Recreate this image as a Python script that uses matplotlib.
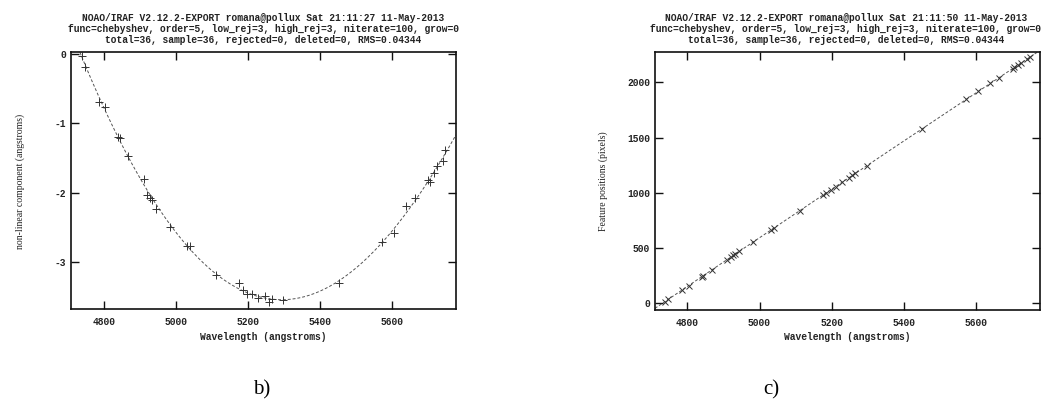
import numpy as np
import matplotlib
matplotlib.use("Agg")
import matplotlib.pyplot as plt

# ---- data ----
wavelength = [4737, 4747, 4786, 4803, 4839, 4844, 4867, 4909, 4920, 4927,
              4933, 4944, 4983, 5031, 5039, 5111, 5176, 5185, 5198, 5211,
              5229, 5248, 5257, 5266, 5297, 5452, 5573, 5607, 5640, 5665,
              5702, 5707, 5718, 5726, 5743, 5749]
nonlinear = [-0.03, -0.19, -0.69, -0.76, -1.20, -1.21, -1.47, -1.80, -2.03, -2.08,
             -2.11, -2.23, -2.49, -2.77, -2.77, -3.19, -3.31, -3.41, -3.46, -3.47,
             -3.52, -3.49, -3.58, -3.53, -3.55, -3.30, -2.72, -2.59, -2.20, -2.08,
             -1.82, -1.85, -1.71, -1.61, -1.55, -1.39]
pixels = [14, 36, 122, 160, 239, 250, 301, 393, 418, 433,
          447, 471, 556, 662, 679, 837, 980, 999, 1028, 1056,
          1096, 1137, 1157, 1177, 1244, 1582, 1845, 1919, 1990, 2044,
          2125, 2136, 2159, 2177, 2214, 2226]

x_ticks = [4800, 5000, 5200, 5400, 5600]
y_ticks_b = [0, -1, -2, -3]
y_ticks_c = [0, 500, 1000, 1500, 2000]

title_b = ["NOAO/IRAF V2.12.2-EXPORT romana@pollux Sat 21:11:27 11-May-2013",
           "func=chebyshev, order=5, low_rej=3, high_rej=3, niterate=100, grow=0",
           "total=36, sample=36, rejected=0, deleted=0, RMS=0.04344"]
title_c = ["NOAO/IRAF V2.12.2-EXPORT romana@pollux Sat 21:11:50 11-May-2013",
           "func=chebyshev, order=5, low_rej=3, high_rej=3, niterate=100, grow=0",
           "total=36, sample=36, rejected=0, deleted=0, RMS=0.04344"]
xlabel = "Wavelength (angstroms)"
ylabel_b = "non-linear component (angstroms)"
ylabel_c = "Feature positions (pixels)"
captions = ["b)", "c)"]

# ---- figure ----
W, H = 1042, 412
fig = plt.figure(figsize=(W / 100, H / 100), dpi=100)
fig.patch.set_facecolor("white")

MONO = ["Liberation Mono", "DejaVu Sans Mono"]
SERIF = ["Liberation Serif", "DejaVu Serif"]
TXT = "#222222"


def px_box(x0, y0, x1, y1):
    return [x0 / W, 1 - y1 / H, (x1 - x0) / W, (y1 - y0) / H]


def style_axes(ax, yticks):
    ax.set_xticks(x_ticks)
    ax.set_yticks(yticks)
    ax.set_xticklabels([str(v) for v in x_ticks])
    ax.set_yticklabels([str(v) for v in yticks])
    ax.tick_params(direction="in", length=5.5, width=1.0, top=True, right=True,
                   colors="#111111", labelcolor=TXT)
    ax.tick_params(axis="x", pad=5.5)
    ax.tick_params(axis="y", pad=3.5)
    for lab in ax.get_xticklabels() + ax.get_yticklabels():
        lab.set_family(MONO)
        lab.set_fontweight("bold")
        lab.set_fontsize(6.9)
    for sp in ax.spines.values():
        sp.set_linewidth(1.2)
        sp.set_color("#111111")


def titles(lines, cx):
    for line, py in zip(lines, [17.5, 29.0, 40.0]):
        fig.text(cx / W, 1 - py / H, line, ha="center", va="center",
                 family=MONO, fontweight="bold", fontsize=6.9, color=TXT)


# ---- panel b ----
axb = fig.add_axes(px_box(71, 52, 456, 309))
xb = np.linspace(4707, 5779, 400)
fit_b = np.polynomial.Chebyshev.fit(wavelength, nonlinear, 4)
axb.plot(xb, fit_b(xb), linestyle=(0, (3, 2)), color="#555555", linewidth=0.7)
axb.plot(wavelength, nonlinear, linestyle="none", marker="+", markersize=6,
         markeredgewidth=0.7, color="#333333")
axb.set_xlim(4707, 5779)
axb.set_ylim(-3.68, 0.03)
style_axes(axb, y_ticks_b)
titles(title_b, 263)
fig.text(263 / W, 1 - 337 / H, xlabel, ha="center", va="center",
         family=MONO, fontweight="bold", fontsize=6.9, color=TXT)
fig.text(20 / W, 1 - 181 / H, ylabel_b, ha="center", va="center", rotation=90,
         family=SERIF, fontsize=7, color=TXT)
fig.text(262 / W, 1 - 390 / H, captions[0], ha="center", va="center",
         family=SERIF, fontsize=15, color="black")

# ---- panel c ----
axc = fig.add_axes(px_box(655, 52, 1040, 310))
xc = np.linspace(4710, 5778, 400)
fit_c = np.polynomial.Chebyshev.fit(wavelength, pixels, 4)
axc.plot(xc, fit_c(xc), linestyle=(0, (3, 2)), color="#555555", linewidth=0.7)
axc.plot(wavelength, pixels, linestyle="none", marker="x", markersize=4,
         markeredgewidth=0.7, color="#333333")
axc.set_xlim(4710, 5778)
axc.set_ylim(-61, 2275)
style_axes(axc, y_ticks_c)
titles(title_c, 846)
fig.text(847 / W, 1 - 337 / H, xlabel, ha="center", va="center",
         family=MONO, fontweight="bold", fontsize=6.9, color=TXT)
fig.text(603 / W, 1 - 181 / H, ylabel_c, ha="center", va="center", rotation=90,
         family=SERIF, fontsize=7, color=TXT)
fig.text(771 / W, 1 - 390 / H, captions[1], ha="center", va="center",
         family=SERIF, fontsize=15, color="black")

fig.savefig("out.png", dpi=100, facecolor="white")
